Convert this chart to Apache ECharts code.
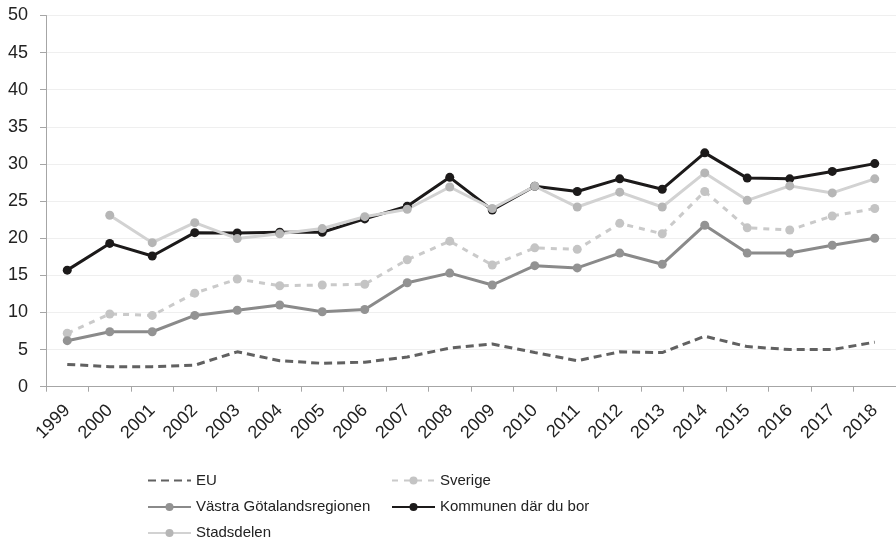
<!DOCTYPE html>
<html><head><meta charset="utf-8">
<script src="https://cdn.jsdelivr.net/npm/echarts@6/dist/echarts.min.js"></script>
<style>html,body{margin:0;padding:0;background:#fff}#c{width:896px;height:542px}</style>
</head><body><div id="c"></div>
<script>
var years = ['1999','2000','2001','2002','2003','2004','2005','2006','2007','2008','2009','2010','2011','2012','2013','2014','2015','2016','2017','2018'];
var yTicks = [0,5,10,15,20,25,30,35,40,45,50];
var eu = [3.0,2.7,2.7,2.9,4.7,3.5,3.15,3.3,4.0,5.2,5.75,4.6,3.5,4.7,4.6,6.8,5.4,5.0,5.0,6.0];
var sverige = [7.2,9.8,9.6,12.6,14.5,13.6,13.7,13.8,17.1,19.6,16.4,18.7,18.5,22.0,20.6,26.3,21.4,21.1,23.0,24.0];
var vgr = [6.2,7.4,7.4,9.6,10.3,11.0,10.1,10.4,14.0,15.3,13.7,16.3,16.0,18.0,16.5,21.75,18.0,18.0,19.05,20.0];
var kommunen = [15.7,19.3,17.6,20.75,20.7,20.8,20.8,22.6,24.3,28.2,23.8,27.0,26.3,28.0,26.6,31.5,28.1,28.0,29.0,30.05];
var stadsdelen = [null,23.1,19.4,22.1,19.95,20.6,21.3,22.9,23.9,26.9,24.0,27.0,24.2,26.2,24.2,28.8,25.1,27.05,26.1,28.0];
var names = ['EU','Sverige','Västra Götalandsregionen','Kommunen där du bor','Stadsdelen'];

var font = 'Liberation Sans, Arial, sans-serif';
var chart = echarts.init(document.getElementById('c'), null, {renderer:'canvas'});
function lg(item, left, top){
  return {data:[item], left:left, top:top, padding:0, itemWidth:43, itemHeight:10, selectedMode:false,
    textStyle:{fontFamily:font, fontSize:15, color:'#222'}};
}
chart.setOption({
  animation:false,
  grid:{left:46, right:0, top:15.5, bottom:155.3},
  legend:[
    lg({name:names[0], itemStyle:{color:'rgba(0,0,0,0)', borderWidth:0, opacity:0}},147,473), lg(names[1],391,473),
    lg(names[2],147,499.5), lg(names[3],391,499.5),
    lg(names[4],147,525.5)
  ],
  xAxis:{type:'category', data:years, boundaryGap:true,
    axisLine:{lineStyle:{color:'#a6a6a6', width:1}},
    axisTick:{show:true, length:5, lineStyle:{color:'#a6a6a6'}},
    axisLabel:{rotate:45, fontFamily:font, fontSize:18, color:'#222', margin:21, interval:0}},
  yAxis:{type:'value', min:0, max:50, interval:5,
    axisLine:{show:true, lineStyle:{color:'#a6a6a6', width:1}},
    axisTick:{show:true, length:6, lineStyle:{color:'#a6a6a6'}},
    axisLabel:{fontFamily:font, fontSize:18, color:'#222', margin:18,
      formatter:function(v){return yTicks.indexOf(v)>=0? String(v):'';}},
    splitLine:{lineStyle:{color:'#efefef', width:1}}},
  series:[
    {name:names[0], type:'line', data:eu, symbol:'none', lineStyle:{color:'#616161', width:3, type:[8,5]}, itemStyle:{color:'#616161'}},
    {name:names[1], type:'line', data:sverige, symbol:'circle', symbolSize:9, lineStyle:{color:'#cacaca', width:3, type:[6,6]}, itemStyle:{color:'#c4c4c4'}},
    {name:names[2], type:'line', data:vgr, symbol:'circle', symbolSize:9, lineStyle:{color:'#8a8a8a', width:3}, itemStyle:{color:'#939393'}},
    {name:names[3], type:'line', data:kommunen, symbol:'circle', symbolSize:9, lineStyle:{color:'#1c1a1a', width:3}, itemStyle:{color:'#1c1a1a'}},
    {name:names[4], type:'line', data:stadsdelen, symbol:'circle', symbolSize:9, connectNulls:false, lineStyle:{color:'#d2d2d2', width:3}, itemStyle:{color:'#b6b6b6'}}
  ]
});
</script></body></html>
